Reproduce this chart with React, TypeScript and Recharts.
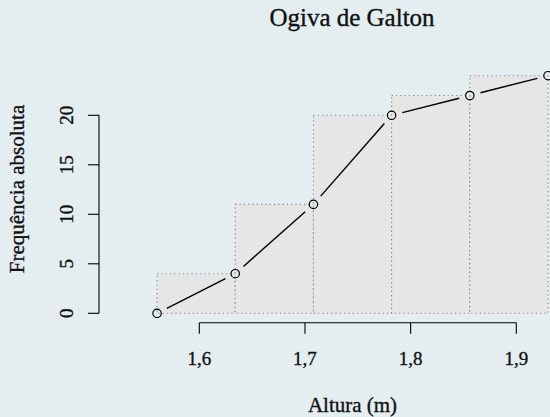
import React from 'react';
import { ComposedChart, Line, XAxis, YAxis, ReferenceArea, ReferenceLine, Label } from 'recharts';

const breaks = [1.56, 1.634, 1.708, 1.782, 1.856, 1.93];
const cumFreq = [0, 4, 11, 20, 22, 24];
const xTicks = [1.6, 1.7, 1.8, 1.9];
const yTicks = [0, 5, 10, 15, 20];
const title = 'Ogiva de Galton';
const xLabel = 'Altura (m)';
const yLabel = 'Frequência absoluta';

const data = breaks.map((x, i) => ({ x, y: cumFreq[i] }));

const W = 550;
const H = 417;
const BG = '#e4eef0';
const FONT = '"Liberation Serif", serif';
const TXT = '#111';
const THICK = 0.35;
const X_DOMAIN: [number, number] = [1.50508, 1.93188];
const Y_DOMAIN: [number, number] = [-0.96, 24.96];

const XTick = (props: any) => {
  const { x, y, payload } = props;
  return (
    <text x={x} y={y + 29.5} textAnchor="middle" fontFamily={FONT} fontSize={19} fill={TXT} stroke={TXT} strokeWidth={THICK}>
      {String(payload.value).replace('.', ',')}
    </text>
  );
};

const YTick = (props: any) => {
  const { x, y, payload } = props;
  const bx = x + 8;
  return (
    <text x={bx} y={y} transform={`rotate(-90 ${bx} ${y})`} textAnchor="middle" fontFamily={FONT} fontSize={19} fill={TXT} stroke={TXT} strokeWidth={THICK}>
      {payload.value}
    </text>
  );
};

const GapDot = (props: any) => {
  const { cx, cy, index, points } = props;
  const gap = 11;
  let seg = null;
  if (points && index < points.length - 1) {
    const n = points[index + 1];
    const dx = n.x - cx;
    const dy = n.y - cy;
    const len = Math.sqrt(dx * dx + dy * dy);
    if (len > 2 * gap) {
      const ux = dx / len;
      const uy = dy / len;
      seg = (
        <line
          x1={cx + ux * gap}
          y1={cy + uy * gap}
          x2={n.x - ux * gap}
          y2={n.y - uy * gap}
          stroke="#000"
          strokeWidth={1.4}
        />
      );
    }
  }
  return (
    <g key={`d${index}`}>
      {seg}
      <circle cx={cx} cy={cy} r={4.2} fill="none" stroke="#000" strokeWidth={1.2} />
    </g>
  );
};

export default function App() {
  return (
    <div style={{ position: 'fixed', left: 0, top: 0, width: W, height: H, background: BG, overflow: 'hidden' }}>
      <div
        style={{
          position: 'absolute',
          left: 202,
          width: 300,
          top: 5,
          textAlign: 'center',
          fontFamily: FONT,
          fontSize: 25,
          lineHeight: '25px',
          color: TXT,
          WebkitTextStroke: `${THICK}px ${TXT}`,
        }}
      >
        {title}
      </div>
      <ComposedChart
        width={W}
        height={H}
        data={data}
        margin={{ top: 66.2, right: 0, bottom: 54.2, left: 39 }}
        style={{ position: 'absolute', left: 0, top: 0 }}
      >
        <XAxis
          dataKey="x"
          type="number"
          domain={X_DOMAIN}
          allowDataOverflow
          ticks={xTicks}
          tick={<XTick />}
          tickSize={11}
          tickLine={{ stroke: '#000', strokeWidth: 1.1 }}
          axisLine={false}
          height={40}
        >
          <Label
            content={() => (
              <text x={352.5} y={411.5} textAnchor="middle" fontFamily={FONT} fontSize={21} fill={TXT} stroke={TXT} strokeWidth={THICK}>
                {xLabel}
              </text>
            )}
          />
        </XAxis>
        <YAxis
          type="number"
          domain={Y_DOMAIN}
          allowDataOverflow
          ticks={yTicks}
          tick={<YTick />}
          tickSize={11}
          tickMargin={23}
          tickLine={{ stroke: '#000', strokeWidth: 1.1 }}
          axisLine={false}
          width={60}
        >
          <Label
            content={() => (
              <text x={24} y={189} transform="rotate(-90 24 189)" textAnchor="middle" fontFamily={FONT} fontSize={21} fill={TXT} stroke={TXT} strokeWidth={THICK}>
                {yLabel}
              </text>
            )}
          />
        </YAxis>
        {breaks.slice(0, -1).map((b, i) => (
          <ReferenceArea
            key={`bar${i}`}
            x1={b}
            x2={breaks[i + 1]}
            y1={0}
            y2={cumFreq[i + 1]}
            fill="#e6e6e6"
            fillOpacity={1}
            stroke="#8a8a8a"
            strokeDasharray="1.3 3"
            strokeWidth={1.1}
            ifOverflow="visible"
          />
        ))}
        <ReferenceLine
          segment={[{ x: xTicks[0], y: Y_DOMAIN[0] }, { x: xTicks[xTicks.length - 1], y: Y_DOMAIN[0] }]}
          stroke="#000"
          strokeWidth={1.1}
          ifOverflow="visible"
        />
        <ReferenceLine
          segment={[{ x: X_DOMAIN[0], y: yTicks[0] }, { x: X_DOMAIN[0], y: yTicks[yTicks.length - 1] }]}
          stroke="#000"
          strokeWidth={1.1}
          ifOverflow="visible"
        />
        <Line
          dataKey="y"
          type="linear"
          stroke="none"
          dot={<GapDot />}
          activeDot={false}
          isAnimationActive={false}
        />
      </ComposedChart>
    </div>
  );
}
